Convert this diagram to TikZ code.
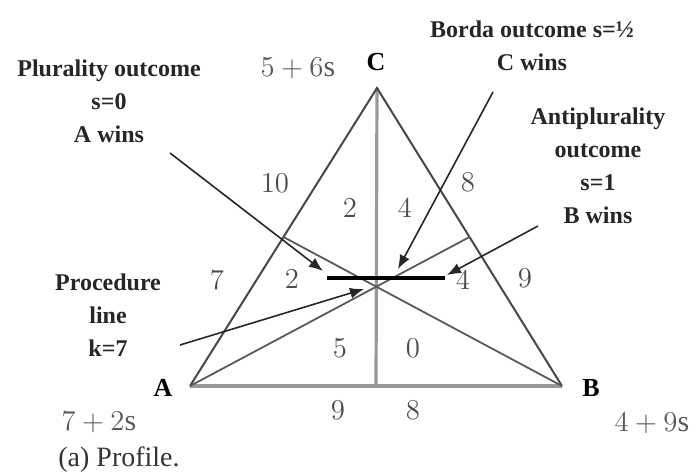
\documentclass[tikz,border=0pt]{standalone}
\usepackage{fontspec}
\setmainfont{Liberation Serif}
\usetikzlibrary{arrows.meta, calc}

\begin{document}
\begin{tikzpicture}[x=0.5pt, y=-0.5pt,
        edge/.style={draw=black!72, line width=1pt},
        medline/.style={draw=black!40, line width=1.6pt},
        cevian/.style={draw=black!65, line width=0.9pt},
        pointer/.style={-{Latex[length=7pt, width=5.5pt]}, draw=black!85, line width=0.8pt},
        procline/.style={draw=black, line width=2.2pt},
        caption/.style={font=\fontsize{12}{16.5}\selectfont\bfseries, text=black!85, align=center, inner sep=0pt},
        region/.style={font=\fontsize{14}{16}\selectfont, text=black!70, inner sep=0pt},
        score/.style={font=\fontsize{15}{18}\selectfont, text=black!65, inner sep=0pt},
        vertex/.style={font=\fontsize{13}{15}\selectfont, inner sep=0pt}
    ]
        \useasboundingbox (0,0) rectangle (697,473);

        % triangle and its medians
        \coordinate (A) at (190,386);
        \coordinate (B) at (562,386);
        \coordinate (C) at (377,88);
        \coordinate (mAB) at ($(A)!0.5!(B)$);
        \coordinate (mBC) at ($(B)!0.5!(C)$);
        \coordinate (mCA) at ($(C)!0.5!(A)$);

        \draw[medline] (A) -- (B);
        \draw[medline] (C) -- (mAB);
        \draw[edge] (A) -- (C) -- (B);
        \draw[cevian] (A) -- (mBC);
        \draw[cevian] (B) -- (mCA);

        % procedure line
        \coordinate (pL) at (327,278);
        \coordinate (pR) at (445,278);
        \draw[procline] (pL) -- (pR);

        % vertex labels and scores
        \node[vertex] (lC) at (376,62) {$\mathbf{C}$};
        \node[vertex] (lA) at (163,388) {$\mathbf{A}$};
        \node[vertex] (lB) at (591,388) {$\mathbf{B}$};
        \node[score] (sC) at (298,68) {$5+6\mathrm{s}$};
        \node[score] (sA) at (99,422) {$7+2\mathrm{s}$};
        \node[score] (sB) at (652,423) {$4+9\mathrm{s}$};

        % region counts
        \foreach \v/\x/\y [count=\i] in {10/275/183, 2/350/208, 4/405/208, 8/468/182,
                7/217/280, 2/292/279, 4/463/280, 9/525/278,
                5/340/348, 0/413/348, 9/338/410, 8/413/410}
            \node[region] (r\i) at (\x,\y) {$\v$};

        % outcome labels
        \node[caption] (plur) at (109,101) {Plurality outcome\\s=0\\A wins};
        \node[caption] (borda) at (532,46) {Borda outcome s=½\\C wins};
        \node[caption] (anti) at (598,166) {Antiplurality\\outcome\\s=1\\B wins};
        \node[caption] (procl) at (108,315) {Procedure\\line\\k=7};

        \coordinate (plurTail) at (170,153);
        \coordinate (plurTip) at (323,271);
        \coordinate (bordaTail) at (493,92);
        \coordinate (bordaTip) at (398,269);
        \coordinate (antiTail) at (538,226);
        \coordinate (antiTip) at (447,275);
        \coordinate (procTail) at (180,345);
        \coordinate (procTip) at (364,289);

        \draw[pointer] (plurTail) -- (plurTip);
        \draw[pointer] (bordaTail) -- (bordaTip);
        \draw[pointer] (antiTail) -- (antiTip);
        \draw[pointer] (procTail) -- (procTip);

        \node[font=\fontsize{14}{16}\selectfont, text=black!80, inner sep=0pt] (cap) at (119,460) {(a) Profile.};
    \end{tikzpicture}
\end{document}
